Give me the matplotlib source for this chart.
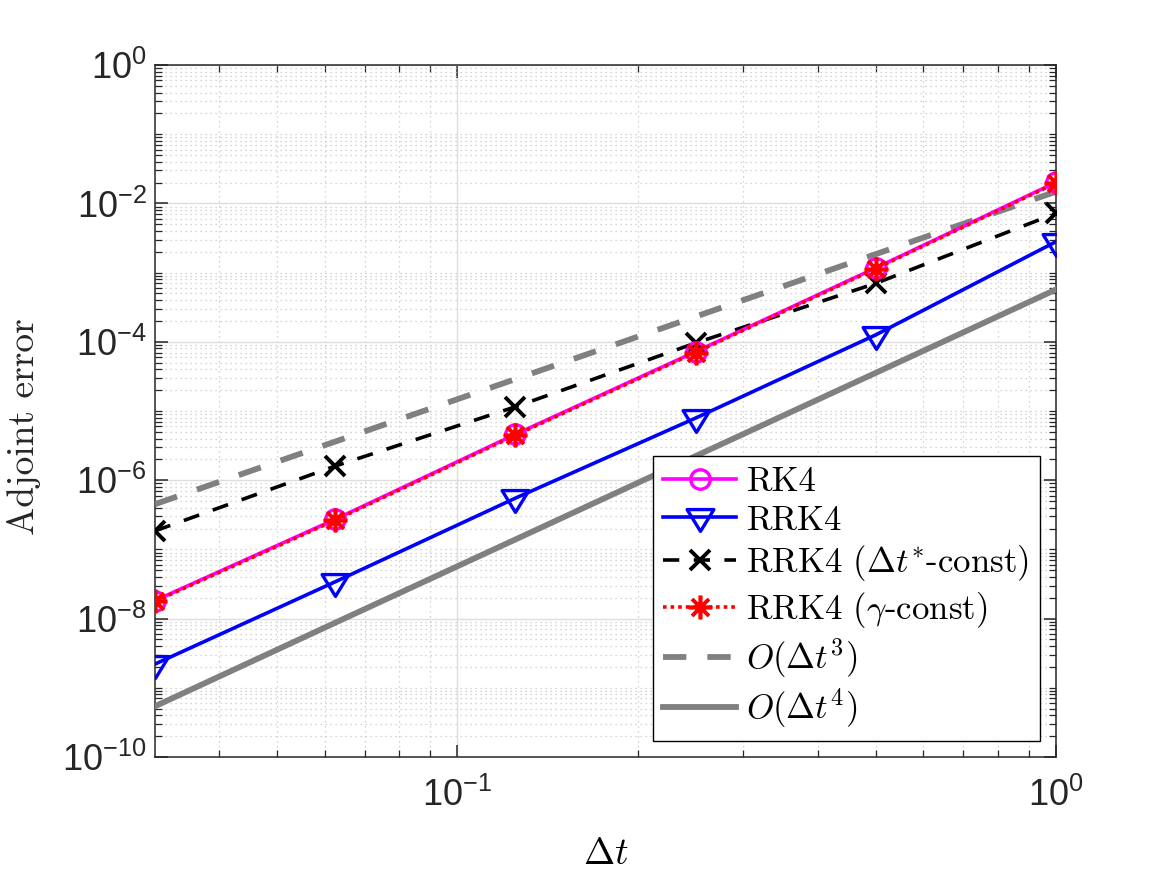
import numpy as np
import matplotlib
matplotlib.use("Agg")
import matplotlib.pyplot as plt
from matplotlib.font_manager import FontProperties
from matplotlib.ticker import FixedLocator, FuncFormatter, NullFormatter
from matplotlib.path import Path

# ---- data ----
dt = [1/32, 1/16, 1/8, 1/4, 1/2, 1.0]
err_rk4 = [1.82e-8, 2.72e-7, 4.6e-6, 7.2e-5, 1.17e-3, 2.02e-2]
err_rrk4 = [2.2e-9, 3.4e-8, 5.5e-7, 7.9e-6, 1.26e-4, 2.8e-3]
err_rrk4_dtconst = [1.85e-7, 1.6e-6, 1.15e-5, 9.6e-5, 7.0e-4, 7.2e-3]
err_rrk4_gconst = [1.77e-8, 2.64e-7, 4.46e-6, 7.0e-5, 1.14e-3, 1.97e-2]
ref_o3 = [4.5e-7, 3.61e-6, 2.89e-5, 2.31e-4, 1.85e-3, 1.48e-2]
ref_o4 = [5.4e-10, 8.7e-9, 1.39e-7, 2.23e-6, 3.56e-5, 5.7e-4]

labels = ["RK4", "RRK4", r"RRK4 ($\Delta t^{*}$-const)", r"RRK4 ($\gamma$-const)",
          r"$O(\Delta t^{3})$", r"$O(\Delta t^{4})$"]
xlabel = r"$\Delta t$"
ylabel = "Adjoint error"
yticks_major = [1e-10, 1e-8, 1e-6, 1e-4, 1e-2, 1e0]
xticks_major = [1e-1, 1e0]

plt.rcParams['mathtext.fontset'] = 'custom'
plt.rcParams['mathtext.rm'] = 'Liberation Sans'
plt.rcParams['mathtext.it'] = 'Liberation Sans:italic'
plt.rcParams['font.family'] = 'Liberation Sans'

dark = (0.15, 0.15, 0.15)
gray = (0.5, 0.5, 0.5)
fig = plt.figure(figsize=(11.67, 8.75), dpi=100)
ax = fig.add_axes([0.1328, 0.1349, 0.7721, 0.7908])
ax.set_xscale('log')
ax.set_yscale('log')

tri = Path([(-13.5, 8), (13.5, 8), (0, -14), (-13.5, 8)],
           [Path.MOVETO, Path.LINETO, Path.LINETO, Path.CLOSEPOLY])

lw = 2.6
ax.plot(dt, err_rk4, '-', color='magenta', lw=lw, marker='o', ms=14, mfc='none', mew=2.4, label=labels[0], zorder=5)
ax.plot(dt, err_rrk4, '-', color='blue', lw=lw, marker=tri, ms=20, mfc='none', mew=2.4, label=labels[1], zorder=4)
ax.plot(dt, err_rrk4_dtconst, '--', color='black', lw=lw, marker='x', ms=14, mew=2.8, label=labels[2], dashes=(4.5, 4), zorder=4)
ax.plot(dt, err_rrk4_gconst, ':', color='red', lw=lw, marker=(8, 2, 0), ms=17, mew=2.6, label=labels[3], dashes=(1, 1.1), zorder=6)
ax.plot(dt, ref_o3, '--', color=gray, lw=4.2, dashes=(4, 3.6), label=labels[4], zorder=3)
ax.plot(dt, ref_o4, '-', color=gray, lw=4.2, label=labels[5], zorder=3)

ax.set_xlim(1/32, 1.0)
ax.set_ylim(1e-10, 1e0)

# ticks
ax.yaxis.set_major_locator(FixedLocator(yticks_major))
yminor = [m * 10.0**e for e in range(-10, 0) for m in range(1, 10) if not (m == 1 and e % 2 == 0)]
ax.yaxis.set_minor_locator(FixedLocator(yminor))
ax.xaxis.set_major_locator(FixedLocator(xticks_major))
xminor = [m * 10.0**e for e in (-2, -1) for m in range(2, 10)]
ax.xaxis.set_minor_locator(FixedLocator(xminor))

def fmt(v, pos):
    e = int(round(np.log10(v)))
    return r"$\mathregular{10^{%d}}$" % e
ax.yaxis.set_major_formatter(FuncFormatter(fmt))
ax.xaxis.set_major_formatter(FuncFormatter(fmt))
ax.yaxis.set_minor_formatter(NullFormatter())
ax.xaxis.set_minor_formatter(NullFormatter())

ax.tick_params(which='both', direction='in', top=True, right=True, colors=dark, labelsize=26)
ax.tick_params(which='major', length=9, width=1.1)
ax.tick_params(which='minor', length=5, width=0.9)
ax.tick_params(axis='x', pad=15)
ax.tick_params(axis='y', pad=6)
for s in ax.spines.values():
    s.set_color(dark)
    s.set_linewidth(1.1)

ax.grid(True, which='major', color=(0.87, 0.87, 0.87), lw=1.0, ls='-')
ax.grid(True, which='minor', color=(0.78, 0.78, 0.78), lw=0.9, ls=(0, (1, 3)))
ax.set_axisbelow(True)

ax.set_xlabel(xlabel, fontsize=27, math_fontfamily='cm', family='cmr10', color='black', labelpad=17)
ax.set_ylabel(ylabel, fontsize=27, family='cmr10', color=dark)
ax.yaxis.set_label_coords(-0.1265, 0.478)

leg_prop = FontProperties(family='cmr10', size=25, math_fontfamily='cm')
leg = ax.legend(loc='lower right', prop=leg_prop, frameon=True, fancybox=False,
                edgecolor='black', framealpha=1, handlelength=2.1, handletextpad=0.3,
                borderpad=0.3, labelspacing=0.19, borderaxespad=0.47)
leg.get_frame().set_linewidth(1.0)

fig.savefig('out.png', dpi=100)
